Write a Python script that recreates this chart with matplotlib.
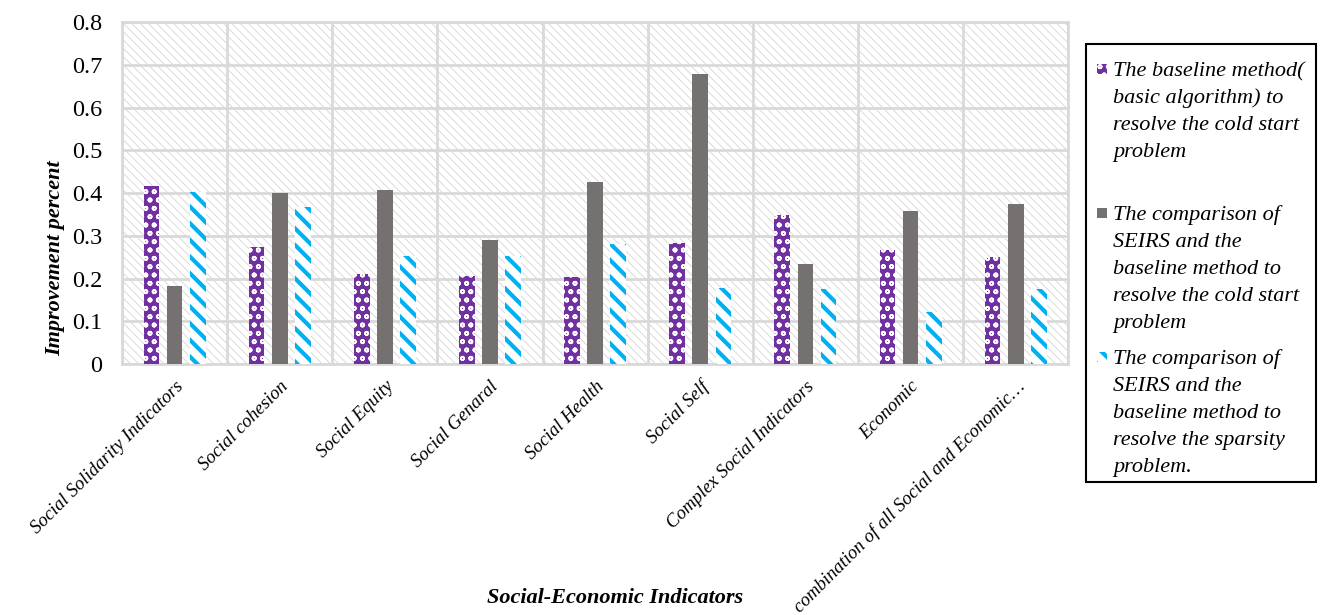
import matplotlib

matplotlib.use("Agg")
import matplotlib.pyplot as plt
import numpy as np
from matplotlib.patches import Rectangle

categories = [
    "Social Solidarity Indicators",
    "Social cohesion",
    "Social Equity",
    "Social Genaral",
    "Social Health",
    "Social Self",
    "Complex Social Indicators",
    "Economic",
    "combination of all Social and Economic\u2026",
]
baseline_cold = [0.416, 0.274, 0.210, 0.206, 0.204, 0.283, 0.348, 0.267, 0.251]
seirs_cold = [0.182, 0.400, 0.407, 0.290, 0.426, 0.678, 0.233, 0.358, 0.374]
seirs_sparse = [0.402, 0.367, 0.253, 0.252, 0.281, 0.178, 0.175, 0.123, 0.176]
series_labels = [
    "The baseline method(\nbasic algorithm) to\nresolve the cold start\nproblem",
    "The comparison of\nSEIRS and the\nbaseline method to\nresolve the cold start\nproblem",
    "The comparison of\nSEIRS and the\nbaseline method to\nresolve the sparsity\nproblem.",
]

PURPLE = "#7030a0"
GRAY = "#767171"
BLUE = "#00b0f0"
GRID = "#d9d9d9"

plt.rcParams["font.family"] = ["Liberation Serif", "DejaVu Serif"]

W, H = 1322, 615
fig = plt.figure(figsize=(W / 100, H / 100), dpi=100)
ax = fig.add_axes([0.0923, 0.408, 0.7158, 0.556])

n = len(categories)
x = np.arange(n)
ax.set_xlim(-0.5, n - 0.5)
ax.set_ylim(0, 0.8)

# hatched plot background
plt.rcParams["hatch.linewidth"] = 0.6
bg = Rectangle((0, 0), 1, 1, transform=ax.transAxes, facecolor="white",
               edgecolor="#d4d4d4", hatch="\\\\\\\\", linewidth=0, zorder=0)
ax.add_patch(bg)

ax.set_yticks(np.arange(0, 0.81, 0.1))
ax.set_yticklabels(["0"] + [f"{v:.1f}" for v in np.arange(0.1, 0.81, 0.1)],
                   fontsize=17.5)
ax.set_xticks(x)
ax.set_xticklabels(categories, rotation=45, ha="right", rotation_mode="anchor",
                   fontsize=13.5, style="italic")
ax.set_xticks(np.arange(-0.5, n, 1.0), minor=True)
ax.tick_params(axis="both", which="both", length=0)
ax.tick_params(axis="x", pad=10)
ax.tick_params(axis="y", pad=14)
ax.grid(True, axis="y", which="major", color=GRID, linewidth=2, zorder=1)
ax.grid(True, axis="x", which="minor", color=GRID, linewidth=2, zorder=1)
ax.grid(False, axis="x", which="major")
ax.set_axisbelow(True)
for s in ax.spines.values():
    s.set_color(GRID)
    s.set_linewidth(2)

w = 0.15
off = 0.22

plt.rcParams["hatch.linewidth"] = 1.2
b1 = ax.bar(x - off, baseline_cold, w, facecolor=PURPLE, edgecolor="white",
            hatch="oo", linewidth=0, zorder=3)
b2 = ax.bar(x, seirs_cold, w, color=GRAY, linewidth=0, zorder=3)
plt.rcParams["hatch.linewidth"] = 3.0
b3 = ax.bar(x + off, seirs_sparse, w, facecolor="white", edgecolor=BLUE,
            hatch="\\\\", linewidth=0, zorder=3)

ax.set_ylabel("Improvement percent", fontsize=16, fontweight="bold", style="italic")
ax.yaxis.set_label_coords(-0.060, 0.31)
fig.text(0.465, 0.028, "Social-Economic Indicators", ha="center", va="center",
         fontsize=16, fontweight="bold", style="italic")


# legend drawn by hand so the swatch sits on the first text line (Excel style)
def fx(px):
    return px / W


def fy(py):
    return 1 - py / H


frame = Rectangle((fx(1086), fy(482)), fx(1316 - 1086), (482 - 44) / H,
                  transform=fig.transFigure, facecolor="white", edgecolor="black",
                  linewidth=1.5)
fig.add_artist(frame)

entry_baselines = [76, 220, 364]
line_pitch = 27
swatch_styles = [
    dict(facecolor=PURPLE, edgecolor="white", hatch="oo", hatch_lw=1.2),
    dict(facecolor=GRAY, edgecolor=GRAY, hatch=None, hatch_lw=1.0),
    dict(facecolor="white", edgecolor=BLUE, hatch="\\\\", hatch_lw=3.0),
]
for label, base, style in zip(series_labels, entry_baselines, swatch_styles):
    plt.rcParams["hatch.linewidth"] = style["hatch_lw"]
    sw = Rectangle((fx(1097), fy(base - 2)), fx(10), 10 / H, transform=fig.transFigure,
                   facecolor=style["facecolor"], edgecolor=style["edgecolor"],
                   hatch=style["hatch"], linewidth=0)
    fig.add_artist(sw)
    for i, line in enumerate(label.split("\n")):
        fig.text(fx(1113), fy(base + i * line_pitch), line, ha="left",
                 va="baseline", fontsize=16, style="italic")

fig.savefig("out.png", dpi=100)
